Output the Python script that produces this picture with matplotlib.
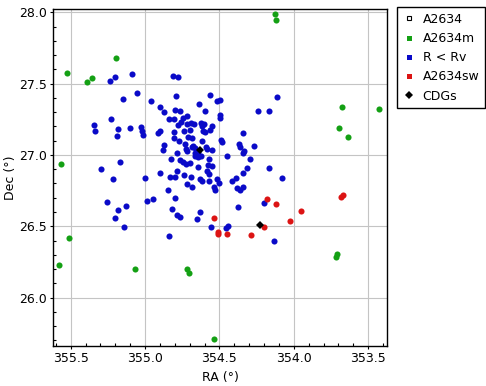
import matplotlib
matplotlib.use("Agg")
import matplotlib.pyplot as plt
from matplotlib.lines import Line2D
import numpy as np

# galaxies inside R < Rv
ra_rv = [355.234, 355.200, 355.086, 354.810, 354.777, 355.147, 355.052, 354.958, 354.792, 354.898,
         354.871, 354.797, 354.763, 354.837, 354.803, 354.745, 354.716, 354.760, 354.779, 354.716,
         354.689, 355.342, 355.335, 355.227, 355.180, 355.187, 355.099, 355.025, 355.021, 355.016,
         354.913, 354.898, 354.805, 354.740, 354.698, 354.803, 354.770, 354.711, 354.871, 354.882,
         354.785, 354.731, 354.727, 354.720, 354.686, 354.561, 354.635, 354.518, 354.498, 354.113,
         354.595, 354.496, 354.494, 354.238, 354.164, 354.671, 354.622, 354.606, 354.615, 354.550,
         354.612, 354.599, 354.565, 354.339, 354.682, 354.615, 354.489, 354.481, 354.368, 354.359,
         354.265, 354.333, 354.680, 354.666, 354.592, 354.581, 354.548, 354.666, 354.644, 354.447,
         354.622, 355.295, 355.167, 355.214, 354.999, 354.898, 354.824, 354.763, 354.743, 354.725,
         354.783, 354.832, 354.797, 354.738, 354.693, 354.716, 354.686, 354.844, 354.797, 355.254,
         355.126, 355.180, 355.200, 354.985, 354.945, 354.817, 354.783, 354.763, 355.140, 354.837,
         354.644, 354.568, 354.292, 354.339, 354.700, 354.642, 354.577, 354.550, 354.583, 354.572,
         354.633, 354.619, 354.568, 354.514, 354.503, 354.536, 354.528, 354.415, 354.386, 354.312,
         354.339, 354.164, 354.077, 354.380, 354.364, 354.341, 354.373, 354.629, 354.649, 354.198,
         354.555, 354.454, 354.440, 354.131, 354.666]
dec_rv = [27.516, 27.544, 27.565, 27.551, 27.544, 27.390, 27.432, 27.376, 27.411, 27.336,
          27.299, 27.313, 27.306, 27.250, 27.250, 27.261, 27.273, 27.229, 27.210, 27.217,
          27.222, 27.210, 27.166, 27.250, 27.180, 27.133, 27.187, 27.196, 27.168, 27.142,
          27.152, 27.168, 27.159, 27.166, 27.173, 27.117, 27.100, 27.124, 27.068, 27.033,
          27.014, 27.075, 27.040, 27.026, 27.056, 27.418, 27.355, 27.376, 27.383, 27.404,
          27.306, 27.278, 27.261, 27.306, 27.306, 27.217, 27.226, 27.215, 27.203, 27.203,
          27.168, 27.159, 27.173, 27.154, 27.121, 27.096, 27.103, 27.089, 27.079, 27.058,
          27.061, 27.030, 27.063, 27.049, 27.054, 27.040, 27.033, 27.016, 27.021, 26.991,
          26.991, 26.902, 26.949, 26.829, 26.839, 26.872, 26.970, 26.963, 26.949, 26.939,
          26.886, 26.843, 26.843, 26.857, 26.848, 26.794, 26.776, 26.752, 26.696, 26.668,
          26.640, 26.612, 26.556, 26.675, 26.689, 26.619, 26.577, 26.563, 26.493, 26.430,
          26.988, 26.972, 26.970, 27.016, 26.944, 26.914, 26.928, 26.921, 26.885, 26.867,
          26.829, 26.820, 26.815, 26.829, 26.801, 26.773, 26.757, 26.820, 26.836, 26.907,
          26.874, 26.911, 26.839, 26.766, 26.752, 26.773, 26.635, 26.598, 26.553, 26.661,
          26.493, 26.488, 26.504, 26.395, 26.991]

# A2634m members
ra_m = [354.126, 354.119, 355.194, 355.523, 355.355, 355.393, 353.424, 353.673, 353.694, 353.633,
        355.564, 355.510, 355.577, 355.066, 354.716, 354.703, 353.711, 353.716, 354.534]
dec_m = [27.988, 27.946, 27.677, 27.572, 27.537, 27.509, 27.320, 27.334, 27.187, 27.126,
         26.935, 26.416, 26.227, 26.199, 26.199, 26.175, 26.306, 26.288, 25.710]

# A2634sw
ra_sw = [354.534, 354.507, 354.507, 354.447, 354.286, 354.200, 354.177, 354.117, 354.023, 353.949,
         353.680, 353.667]
dec_sw = [26.556, 26.458, 26.444, 26.446, 26.437, 26.492, 26.689, 26.654, 26.535, 26.605,
          26.708, 26.722]

# central dominant galaxies
ra_cdg = [354.631, 354.225]
dec_cdg = [27.035, 26.507]

ra_a2634 = []
dec_a2634 = []

labels = ["A2634", "A2634m", "R < Rv", "A2634sw", "CDGs"]
c_blue = "#0a0ac8"
c_green = "#14a014"
c_red = "#dc1414"

plt.rcParams['font.family'] = ['DejaVu Sans']
plt.rcParams['font.size'] = 9

fig = plt.figure(figsize=(4.86, 3.86), dpi=100)
ax = fig.add_axes([53/486, 1 - 345.7/386, 334/486, 336.7/386])

ms = 4.4
ax.plot(ra_a2634, dec_a2634, ls="none", marker="s", mfc="white", mec="black")
ax.plot(ra_m, dec_m, ls="none", marker="o", ms=ms, mew=0, color=c_green)
ax.plot(ra_rv, dec_rv, ls="none", marker="o", ms=ms, mew=0, color=c_blue)
ax.plot(ra_sw, dec_sw, ls="none", marker="o", ms=ms, mew=0, color=c_red)
ax.plot(ra_cdg, dec_cdg, ls="none", marker="D", ms=3.6, mew=0, color="black")

ax.set_xlim(355.619, 353.373)
ax.set_ylim(25.663, 28.023)
ax.set_xticks([355.5, 355.0, 354.5, 354.0, 353.5])
ax.set_yticks([26.0, 26.5, 27.0, 27.5, 28.0])
ax.set_xticks(np.arange(353.4, 355.65, 0.1), minor=True)
ax.set_yticks(np.arange(25.7, 28.05, 0.1), minor=True)
ax.tick_params(which="major", direction="out", length=2.5, width=0.8, pad=2, color="black")
ax.tick_params(which="minor", direction="in", length=2, width=0.8)
ax.grid(True, which="major", color="#c4c4c4", lw=0.8)
ax.set_axisbelow(True)
for s in ax.spines.values():
    s.set_linewidth(1)
ax.set_xlabel("RA (°)", labelpad=4)
ax.set_ylabel("Dec (°)", labelpad=1)

handles = [
    Line2D([], [], ls="none", marker="s", ms=3.2, mfc="white", mec="black", mew=0.8),
    Line2D([], [], ls="none", marker="s", ms=3.6, mew=0, color=c_green),
    Line2D([], [], ls="none", marker="s", ms=3.6, mew=0, color=c_blue),
    Line2D([], [], ls="none", marker="s", ms=3.6, mew=0, color=c_red),
    Line2D([], [], ls="none", marker="D", ms=3.6, mew=0, color="black"),
]
leg = fig.legend(handles, labels, loc="upper left", bbox_to_anchor=(397/486, 1 - 7/386),
                 frameon=True, fancybox=False, edgecolor="black", framealpha=1,
                 handlelength=1.0, handletextpad=0.6, labelspacing=0.5, borderpad=0.45,
                 borderaxespad=0)
leg.get_frame().set_linewidth(1)

fig.savefig("out.png", dpi=100)
